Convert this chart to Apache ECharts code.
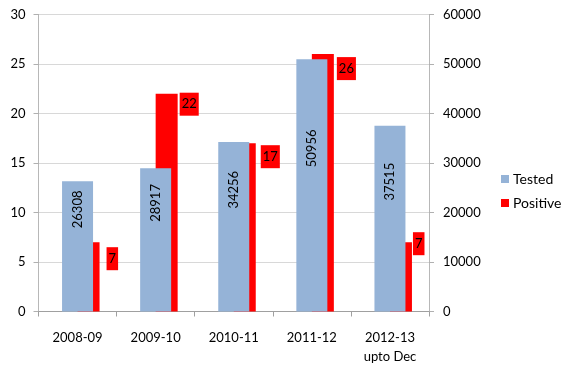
<!DOCTYPE html>
<html>
<head>
<meta charset="utf-8">
<script src="https://cdn.jsdelivr.net/npm/echarts@6/dist/echarts.min.js"></script>
<style>
html,body{margin:0;padding:0;background:#fff;}
#main{width:566px;height:379px;}
</style>
</head>
<body>
<div id="main"></div>
<script>
var categories = ['2008-09', '2009-10', '2010-11', '2011-12', '2012-13\nupto Dec'];
var tested = [26308, 28917, 34256, 50956, 37515];
var positive = [7, 22, 17, 26, 7];
var leftTicks = { min: 0, max: 30, interval: 5 };
var rightTicks = { min: 0, max: 60000, interval: 10000 };

var FONT = 'Lato';
var gridColor = '#b0b0b0';
var labelOffsets = [[7, 5], [2, -1], [5, 2], [3, 3], [1, -10]];

var chart = echarts.init(document.getElementById('main'), null, { renderer: 'canvas' });

var positiveData = positive.map(function (v, i) {
  return {
    value: v,
    label: { offset: labelOffsets[i] }
  };
});

var option = {
  animation: false,
  backgroundColor: '#ffffff',
  textStyle: { fontFamily: FONT },
  grid: { left: 38.5, right: 137, top: 14.5, bottom: 67.5, containLabel: false },
  legend: {
    orient: 'vertical',
    left: 496,
    top: 167,
    itemWidth: 8,
    itemHeight: 8,
    itemGap: 10,
    icon: 'rect',
    data: ['Tested', 'Positive'],
    textStyle: { fontFamily: FONT, fontSize: 14, color: '#000', padding: [0, 0, 0, -1] }
  },
  xAxis: [
    {
      type: 'category',
      data: categories,
      axisLine: { show: true, lineStyle: { color: '#a0a0a0', width: 1 } },
      axisTick: { show: true, length: 5, interval: 0, lineStyle: { color: '#a0a0a0' } },
      axisLabel: { fontFamily: FONT, fontSize: 13, color: '#000', margin: 17, lineHeight: 19, interval: 0 },
      splitLine: { show: false }
    },
    {
      type: 'category',
      data: categories,
      show: false
    }
  ],
  yAxis: [
    {
      type: 'value',
      min: leftTicks.min,
      max: leftTicks.max,
      interval: leftTicks.interval,
      position: 'left',
      axisLine: { show: true, lineStyle: { color: gridColor, type: 'dotted' } },
      axisTick: { show: true, length: 5, lineStyle: { color: gridColor } },
      axisLabel: { fontFamily: FONT, fontSize: 13, color: '#000', margin: 13 },
      splitLine: { show: true, lineStyle: { color: gridColor, type: 'dotted' } }
    },
    {
      type: 'value',
      min: rightTicks.min,
      max: rightTicks.max,
      interval: rightTicks.interval,
      position: 'right',
      axisLine: { show: true, lineStyle: { color: gridColor, type: 'dotted' } },
      axisTick: { show: true, length: 5, lineStyle: { color: gridColor } },
      axisLabel: {
        fontFamily: FONT, fontSize: 13, color: '#000', margin: 14,
        formatter: function (v) { return String(v); }
      },
      splitLine: { show: false }
    }
  ],
  series: [
    {
      name: 'Tested',
      type: 'bar',
      xAxisIndex: 0,
      yAxisIndex: 1,
      data: tested,
      barWidth: 31,
      z: 3,
      itemStyle: { color: '#95b3d7' },
      label: {
        show: true,
        position: 'inside',
        rotate: 90,
        offset: [37, 0],
        fontFamily: FONT,
        fontSize: 13,
        color: '#000'
      }
    },
    {
      name: '_spacer',
      type: 'bar',
      xAxisIndex: 1,
      yAxisIndex: 0,
      data: [],
      barWidth: 22,
      barGap: 0,
      itemStyle: { color: 'transparent' }
    },
    {
      name: 'Positive',
      type: 'bar',
      xAxisIndex: 1,
      yAxisIndex: 0,
      data: positiveData,
      barWidth: 22,
      barGap: 0,
      z: 2,
      itemStyle: { color: '#ff0000' },
      label: {
        show: true,
        position: ['100%', 0],
        align: 'left',
        verticalAlign: 'top',
        fontFamily: FONT,
        fontSize: 13,
        color: '#000',
        backgroundColor: '#ff0000',
        padding: [4, 2, 4, 2],
        lineHeight: 15
      }
    }
  ]
};

chart.setOption(option);
</script>
</body>
</html>
